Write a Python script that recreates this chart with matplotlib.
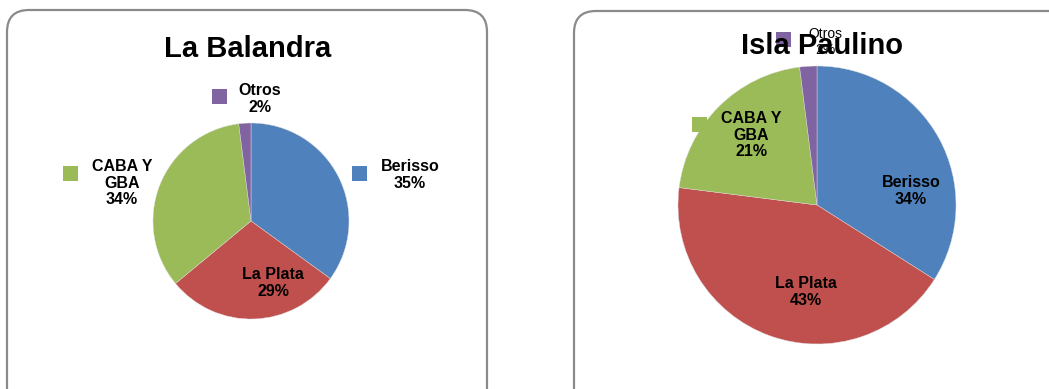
import matplotlib
matplotlib.use("Agg")
import matplotlib.pyplot as plt
from matplotlib.patches import FancyBboxPatch, Rectangle

W, H = 1049, 389
plt.rcParams["font.family"] = ["Liberation Sans", "DejaVu Sans"]

# --- data ---
categories = ["Berisso", "La Plata", "CABA Y\nGBA", "Otros"]
balandra = [35, 29, 34, 2]
paulino = [34, 43, 21, 2]
colors = ["#4F81BD", "#C0504D", "#9BBB59", "#8064A2"]

# --- layout (pixels) ---
panels = [
    dict(title="La Balandra", values=balandra, rect=(7, 10, 480, 400), title_xy=(248, 49),
         center=(251, 221), radius=98,
         labels=[(410, 175), (273, 283), (122, 183), (260, 99)],
         keys=[(352, 166), None, (63, 166), (212, 89)],
         label_sizes=[11.5, 11.5, 11.5, 11.5]),
    dict(title="Isla Paulino", values=paulino, rect=(574, 11, 500, 400), title_xy=(822, 46),
         center=(817, 205), radius=139,
         labels=[(911, 191), (806, 292), (751, 135), (825, 42)],
         keys=[None, None, (692, 117), (776, 32)],
         label_sizes=[11.5, 11.5, 11.5, 10]),
]

fig = plt.figure(figsize=(W / 100, H / 100), dpi=100)

bg = fig.add_axes([0, 0, 1, 1], zorder=0)
bg.set_xlim(0, W)
bg.set_ylim(H, 0)
bg.axis("off")

top = fig.add_axes([0, 0, 1, 1], zorder=2)
top.set_xlim(0, W)
top.set_ylim(H, 0)
top.axis("off")
top.patch.set_alpha(0)

for p in panels:
    x, y, w, h = p["rect"]
    bg.add_patch(FancyBboxPatch((x, y), w, h, boxstyle="round,pad=0,rounding_size=22",
                                fc="white", ec="#8a8a8a", lw=1.6))

    cx, cy = p["center"]
    r = p["radius"]
    ax = fig.add_axes([(cx - r) / W, 1 - (cy + r) / H, 2 * r / W, 2 * r / H], zorder=1)
    ax.pie(p["values"], colors=colors, startangle=90, counterclock=False,
           wedgeprops=dict(linewidth=0.3, edgecolor="#dddddd"))
    ax.set_xlim(-1, 1)
    ax.set_ylim(-1, 1)
    ax.set_aspect("auto")
    ax.axis("off")

    for cat, val, (lx, ly), key, col, fs in zip(categories, p["values"], p["labels"],
                                                 p["keys"], colors, p["label_sizes"]):
        if key is not None:
            top.add_patch(Rectangle(key, 15, 15, fc=col, ec="none", zorder=2))
        top.text(lx, ly, f"{cat}\n{val}%", ha="center", va="center", fontsize=fs,
                 fontweight="bold" if fs > 10 else "normal", color="black",
                 linespacing=1.15, zorder=3)

    # the right title sits on top of the "Otros" label, as in the original
    tx, ty = p["title_xy"]
    top.text(tx, ty, p["title"], ha="center", va="center", fontsize=21,
             fontweight="bold", color="black", zorder=5)

fig.savefig("out.png", dpi=100)
